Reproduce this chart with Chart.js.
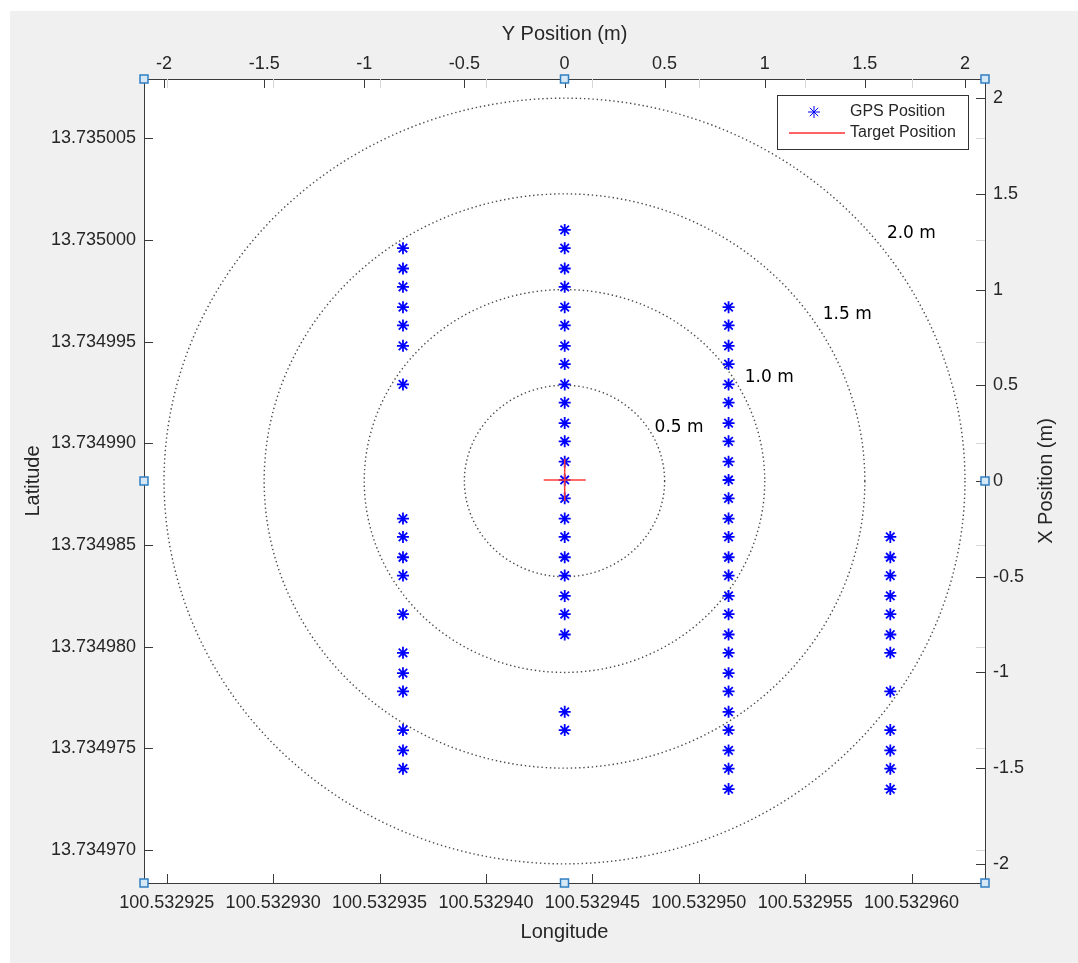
<!DOCTYPE html>
<html>
<head>
<meta charset="utf-8">
<title>GPS Position Test</title>
<script src="https://cdn.jsdelivr.net/npm/chart.js@4.4.0/dist/chart.umd.min.js"></script>
<style>
  html, body { margin: 0; padding: 0; background: #fff; }
  canvas { display: block; }
</style>
</head>
<body>
<canvas id="gpsChart" width="1078" height="963"></canvas>
<script>
// Axis ticks
const lonTicks = [100.532925, 100.532930, 100.532935, 100.532940, 100.532945, 100.532950, 100.532955, 100.532960];
const latTicks = [13.734970, 13.734975, 13.734980, 13.734985, 13.734990, 13.734995, 13.735000, 13.735005];
const meterTicks = [-2, -1.5, -1, -0.5, 0, 0.5, 1, 1.5, 2];

// Axis limits (degrees and metres share the same box)
const lonRange = [100.53292393, 100.53296345];
const latRange = [13.73496838, 13.73500792];
const meterRange = [-2.1, 2.1];

// Target point and range rings around it
const targetLon = [100.5329437];
const targetLat = [13.7349882];
const ringRadii = [0.5, 1.0, 1.5, 2.0];
const ringLabels = ['0.5 m', '1.0 m', '1.5 m', '2.0 m'];

// GPS fixes, grouped by the longitude of each walk line
const gpsLon = [100.5329361, 100.5329437, 100.5329514, 100.5329590];
const gpsLatLine1 = [13.7349996, 13.7349986, 13.7349977, 13.7349967, 13.7349958, 13.7349948, 13.7349929,
  13.7349863, 13.7349854, 13.7349844, 13.7349835, 13.7349816, 13.7349797, 13.7349787, 13.7349778,
  13.7349759, 13.7349749, 13.7349740];
const gpsLatLine2 = [13.7350005, 13.7349996, 13.7349986, 13.7349977, 13.7349967, 13.7349958, 13.7349948,
  13.7349939, 13.7349929, 13.7349920, 13.7349910, 13.7349901, 13.7349891, 13.7349882, 13.7349873,
  13.7349863, 13.7349854, 13.7349844, 13.7349835, 13.7349825, 13.7349816, 13.7349806,
  13.7349768, 13.7349759];
const gpsLatLine3 = [13.7349967, 13.7349958, 13.7349948, 13.7349939, 13.7349929, 13.7349920, 13.7349910,
  13.7349901, 13.7349891, 13.7349882, 13.7349873, 13.7349863, 13.7349854, 13.7349844, 13.7349835,
  13.7349825, 13.7349816, 13.7349806, 13.7349797, 13.7349787, 13.7349778, 13.7349768, 13.7349759,
  13.7349749, 13.7349740, 13.7349730];
const gpsLatLine4 = [13.7349854, 13.7349844, 13.7349835, 13.7349825, 13.7349816, 13.7349806, 13.7349797,
  13.7349778, 13.7349759, 13.7349749, 13.7349740, 13.7349730];

const gpsLines = [gpsLatLine1, gpsLatLine2, gpsLatLine3, gpsLatLine4];
const gpsPoints = gpsLines.flatMap((lats, i) => lats.map(lat => ({ x: gpsLon[i], y: lat })));
const targetPoints = targetLon.map((lon, i) => ({ x: lon, y: targetLat[i] }));

const axisColor = '#3a3a3a';
const textColor = '#262626';
Chart.defaults.font.family = '"Liberation Sans", Arial, Helvetica, sans-serif';
Chart.defaults.color = textColor;

const useTicks = list => scale => { scale.ticks = list.map(v => ({ value: v })); };

// grey figure panel and white axes background
const framePlugin = {
  id: 'frame',
  beforeDraw(chart) {
    const { ctx, chartArea: a } = chart;
    ctx.save();
    ctx.fillStyle = '#f0f0f0';
    ctx.fillRect(10, 11, chart.width - 10, chart.height - 11);
    ctx.fillStyle = '#fff';
    ctx.fillRect(a.left, a.top, a.right - a.left, a.bottom - a.top);
    ctx.restore();
  }
};

// dotted range rings in metres, centred on the target
const ringPlugin = {
  id: 'rings',
  beforeDatasetsDraw(chart, args, opts) {
    const { ctx, chartArea: a } = chart;
    const sx = chart.scales.x2, sy = chart.scales.y2;
    const cx = sx.getPixelForValue(0), cy = sy.getPixelForValue(0);
    ctx.save();
    ctx.beginPath();
    ctx.rect(a.left, a.top, a.right - a.left, a.bottom - a.top);
    ctx.clip();
    ctx.strokeStyle = '#4a4a4a';
    ctx.lineWidth = 1.4;
    ctx.setLineDash([1.4, 2.8]);
    ringRadii.forEach(r => {
      ctx.beginPath();
      ctx.ellipse(cx, cy, sx.getPixelForValue(r) - cx, cy - sy.getPixelForValue(r), 0, 0, Math.PI * 2);
      ctx.stroke();
    });
    ctx.setLineDash([]);
    ctx.fillStyle = '#000';
    ctx.font = '17px "DejaVu Sans", Verdana, sans-serif';
    ctx.textAlign = 'left';
    ctx.textBaseline = 'middle';
    ringLabels.forEach((t, i) => {
      const [mx, my] = opts.labelAt[i];
      ctx.fillText(t, sx.getPixelForValue(mx), sy.getPixelForValue(my));
    });
    ctx.restore();
  }
};

// inward tick marks, legend box, right axis title and the selection handles
const overlayPlugin = {
  id: 'overlay',
  afterDraw(chart) {
    const { ctx, chartArea: a, scales } = chart;
    const len = 9;
    ctx.save();
    ctx.lineWidth = 1;

    const vTicks = (scale, y, dir, color) => {
      ctx.strokeStyle = color;
      scale.ticks.forEach(t => {
        const x = Math.round(scale.getPixelForValue(t.value)) + 0.5;
        ctx.beginPath(); ctx.moveTo(x, y); ctx.lineTo(x, y + dir * len); ctx.stroke();
      });
    };
    const hTicks = (scale, x, dir, color) => {
      ctx.strokeStyle = color;
      scale.ticks.forEach(t => {
        const y = Math.round(scale.getPixelForValue(t.value)) + 0.5;
        ctx.beginPath(); ctx.moveTo(x, y); ctx.lineTo(x + dir * len, y); ctx.stroke();
      });
    };
    vTicks(scales.x, a.top, 1, '#d6d6d6');
    hTicks(scales.y, a.right, -1, '#d6d6d6');
    vTicks(scales.x, a.bottom, -1, axisColor);
    hTicks(scales.y, a.left, 1, axisColor);
    vTicks(scales.x2, a.top, 1, axisColor);
    hTicks(scales.y2, a.right, -1, axisColor);

    // legend
    const bw = 191, bh = 54;
    const bx = a.right - 17 - bw, by = a.top + 16;
    ctx.fillStyle = '#fff';
    ctx.fillRect(bx, by, bw, bh);
    ctx.strokeStyle = '#333';
    ctx.strokeRect(bx + 0.5, by + 0.5, bw, bh);
    ctx.strokeStyle = '#0000ff';
    ctx.fillStyle = '#0000ff';
    Chart.helpers.drawPoint(ctx, { pointStyle: 'star', radius: 6, rotation: 0, borderWidth: 1.8 }, bx + 37, by + 17);
    ctx.strokeStyle = '#ff3030';
    ctx.lineWidth = 1.5;
    ctx.beginPath(); ctx.moveTo(bx + 12, by + 38); ctx.lineTo(bx + 68, by + 38); ctx.stroke();
    ctx.fillStyle = textColor;
    ctx.font = '16px "Liberation Sans", Arial, sans-serif';
    ctx.textAlign = 'left';
    ctx.textBaseline = 'middle';
    ctx.fillText('GPS Position', bx + 73, by + 17);
    ctx.fillText('Target Position', bx + 73, by + 38);

    // right axis title, reading bottom to top like the left one
    ctx.save();
    ctx.translate(1046, (a.top + a.bottom) / 2);
    ctx.rotate(-Math.PI / 2);
    ctx.font = '20px "Liberation Sans", Arial, sans-serif';
    ctx.textAlign = 'center';
    ctx.fillText('X Position (m)', 0, 0);
    ctx.restore();

    // edit handles on the axes box
    const mx = (a.left + a.right) / 2, my = (a.top + a.bottom) / 2;
    const spots = [[a.left, a.top], [mx, a.top], [a.right, a.top], [a.left, my], [a.right, my],
      [a.left, a.bottom], [mx, a.bottom], [a.right, a.bottom]];
    ctx.lineWidth = 1.5;
    spots.forEach(([x, y]) => {
      ctx.fillStyle = '#d6e7f6';
      ctx.fillRect(x - 4, y - 4, 8, 8);
      ctx.strokeStyle = '#2f7fc1';
      ctx.strokeRect(x - 4, y - 4, 8, 8);
    });
    ctx.restore();
  }
};

const scaleBase = {
  type: 'linear',
  grid: { display: false, drawTicks: false },
  border: { display: true, color: axisColor, width: 1 },
  ticks: { color: textColor, font: { size: 18 } }
};

new Chart(document.getElementById('gpsChart'), {
  type: 'scatter',
  data: {
    datasets: [
      {
        label: 'Target Position',
        data: targetPoints,
        pointStyle: 'cross',
        pointRadius: 21,
        borderColor: '#ff3a3a',
        backgroundColor: '#ff3a3a',
        borderWidth: 1.5,
        order: 0
      },
      {
        label: 'GPS Position',
        data: gpsPoints,
        pointStyle: 'star',
        pointRadius: 6,
        borderColor: '#0000ff',
        backgroundColor: '#0000ff',
        borderWidth: 1.8,
        order: 1
      }
    ]
  },
  options: {
    responsive: false,
    devicePixelRatio: 1,
    animation: false,
    events: [],
    layout: { padding: 0 },
    plugins: {
      legend: { display: false },
      tooltip: { enabled: false },
      rings: { labelAt: [[0.45, 0.28], [0.90, 0.54], [1.29, 0.87], [1.61, 1.29]] }
    },
    scales: {
      x: {
        ...scaleBase,
        position: 'bottom',
        min: lonRange[0], max: lonRange[1],
        afterBuildTicks: useTicks(lonTicks),
        afterFit: s => { s.height = 80; },
        ticks: { ...scaleBase.ticks, padding: 9, maxRotation: 0, autoSkip: false, callback: v => v.toFixed(6) },
        title: { display: true, text: 'Longitude', color: textColor, font: { size: 20 }, padding: { top: 0, bottom: 19 } }
      },
      y: {
        ...scaleBase,
        position: 'left',
        min: latRange[0], max: latRange[1],
        afterBuildTicks: useTicks(latTicks),
        afterFit: s => { s.width = 144; },
        ticks: { ...scaleBase.ticks, padding: 8, autoSkip: false, callback: v => v.toFixed(6) },
        title: { display: true, text: 'Latitude', color: textColor, font: { size: 20 }, padding: { top: 21, bottom: 0 } }
      },
      x2: {
        ...scaleBase,
        axis: 'x',
        position: 'top',
        min: meterRange[0], max: meterRange[1],
        afterBuildTicks: useTicks(meterTicks),
        afterFit: s => { s.height = 79; },
        ticks: { ...scaleBase.ticks, padding: 4, maxRotation: 0, autoSkip: false, callback: v => String(v) },
        title: { display: true, text: 'Y Position (m)', color: textColor, font: { size: 20 }, padding: { top: 22, bottom: 0 } }
      },
      y2: {
        ...scaleBase,
        axis: 'y',
        position: 'right',
        min: meterRange[0], max: meterRange[1],
        afterBuildTicks: useTicks(meterTicks),
        afterFit: s => { s.width = 93; },
        ticks: { ...scaleBase.ticks, padding: 8, autoSkip: false, callback: v => String(v) }
      }
    }
  },
  plugins: [framePlugin, ringPlugin, overlayPlugin]
});
</script>
</body>
</html>
